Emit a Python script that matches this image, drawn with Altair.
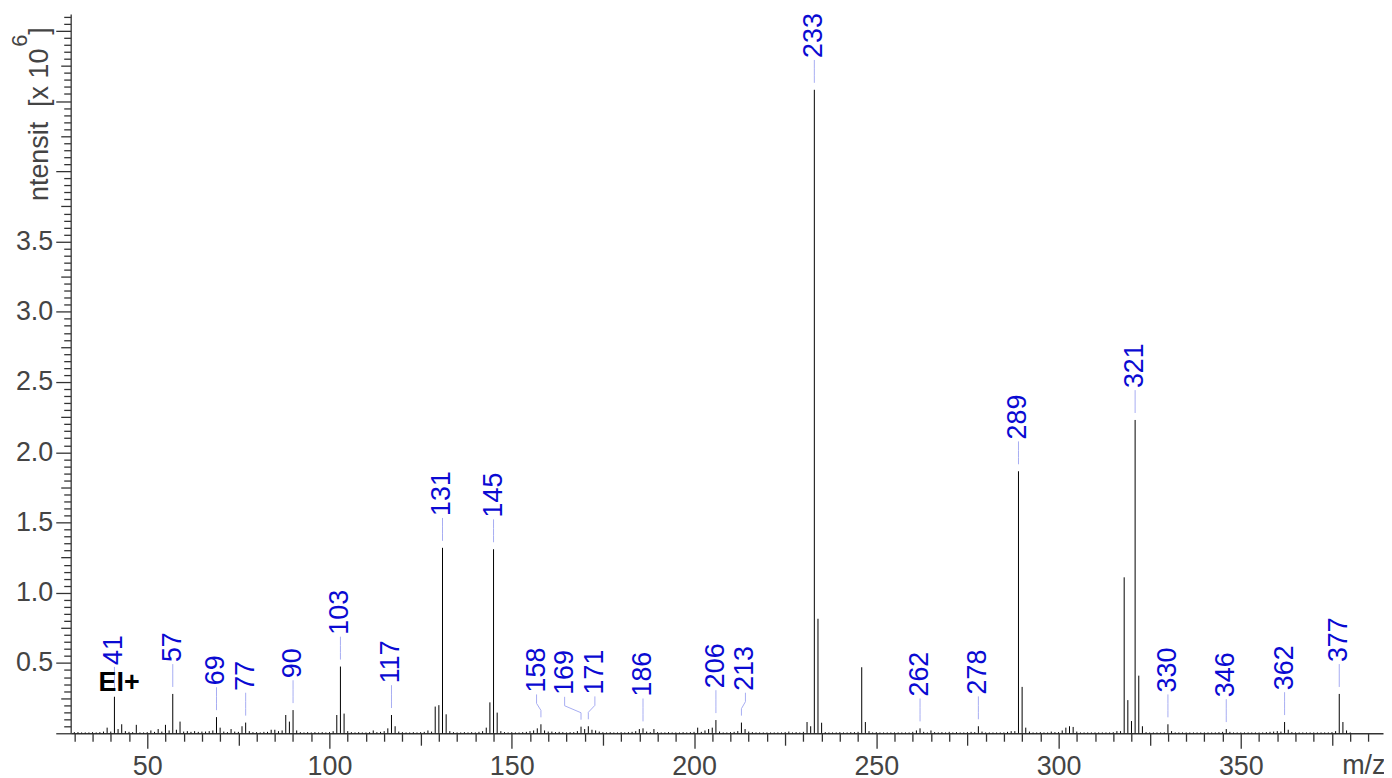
import altair as alt
import pandas as pd

# ---- data (intensity in units of 10^6) ----
mz = list(range(30, 381))
intensity = [
    .008, .008, .006, .006, .006, .008, .006, .008, .012, .04,     # 30-39
    .012, .26, .03, .064, .015, .01, .008, .06, .006, .006,        # 40-49
    .008, .02, .01, .03, .012, .06, .02, .28, .025, .083,          # 50-59
    .012, .015, .01, .015, .01, .012, .012, .015, .02, .115,       # 60-69
    .04, .012, .008, .03, .012, .01, .05, .076, .015, .008,        # 70-79
    .008, .006, .01, .01, .025, .025, .015, .02, .13, .083,        # 80-89
    .165, .02, .008, .006, .008, .006, .008, .006, .008, .006,     # 90-99
    .008, .015, .13, .475, .14, .015, .008, .006, .008, .006,      # 100-109
    .006, .008, .02, .008, .01, .015, .035, .13, .05, .012,        # 110-119
    .008, .006, .006, .008, .006, .008, .01, .02, .012, .19,       # 120-129
    .2, 1.32, .135, .015, .008, .006, .006, .008, .006, .008,      # 130-139
    .006, .01, .015, .04, .22, 1.31, .147, .015, .008, .006,       # 140-149
    .008, .006, .006, .008, .01, .015, .02, .035, .064, .02,       # 150-159
    .012, .012, .008, .01, .008, .006, .008, .008, .015, .047,     # 160-169
    .03, .05, .025, .02, .012, .008, .006, .008, .006, .006,       # 170-179
    .008, .006, .008, .01, .015, .03, .035, .012, .008, .03,       # 180-189
    .008, .006, .006, .008, .006, .006, .006, .008, .006, .008,    # 190-199
    .01, .04, .01, .02, .03, .04, .094, .012, .006, .006,          # 200-209
    .008, .01, .015, .076, .03, .012, .008, .006, .006, .006,      # 210-219
    .006, .006, .006, .006, .006, .008, .012, .006, .008, .006,    # 220-229
    .01, .08, .05, 4.58, .815, .075, .008, .006, .006, .006,       # 230-239
    .008, .006, .006, .008, .008, .01, .47, .08, .015, .006,       # 240-249
    .008, .006, .006, .006, .006, .006, .006, .006, .006, .006,    # 250-259
    .01, .02, .035, .01, .006, .02, .008, .006, .008, .006,        # 260-269
    .01, .006, .008, .006, .006, .008, .01, .008, .05, .012,       # 270-279
    .006, .006, .006, .006, .006, .006, .01, .015, .015, 1.865,    # 280-289
    .33, .04, .012, .006, .006, .008, .006, .006, .012, .008,      # 290-299
    .008, .02, .04, .05, .045, .012, .006, .006, .006, .006,       # 300-309
    .006, .006, .006, .006, .006, .008, .015, .015, 1.11, .236,    # 310-319
    .087, 2.23, .41, .05, .008, .006, .006, .006, .006, .006,      # 320-329
    .064, .015, .006, .006, .006, .006, .006, .006, .006, .006,    # 330-339
    .006, .006, .006, .006, .008, .01, .03, .01, .006, .006,       # 340-349
    .006, .006, .006, .006, .006, .006, .006, .008, .01, .012,     # 350-359
    .015, .012, .08, .025, .008, .006, .006, .006, .006, .006,     # 360-369
    .006, .006, .006, .006, .006, .008, .015, .28, .08, .02,       # 370-379
    .006,                                                          # 380
]
labelled = [41, 57, 69, 77, 90, 103, 117, 131, 145, 158, 169, 171,
            186, 206, 213, 233, 262, 278, 289, 321, 330, 346, 362, 377]

# label displacement (m/z units) to avoid collisions
shift = {158: -1.2, 169: -4.5, 171: 1.8, 213: 1.1}

x_ticks = list(range(30, 390, 5))
y_ticks = [round(i * 0.05, 2) for i in range(0, 103)]

spec = pd.DataFrame({"mz": mz, "inten": intensity})
lookup = dict(zip(mz, intensity))
lab = pd.DataFrame({
    "mz": labelled,
    "inten": [lookup[m] for m in labelled],
    "lx": [m + shift.get(m, 0) for m in labelled],
    "label": [str(m) for m in labelled],
})

FONT = "Liberation Sans"
AX = "#333333"
LBL = "#444444"
BLUE = "#0a0ad2"
LEAD = "#a6acf2"

xscale = alt.Scale(domain=[29, 389], nice=False, zero=False)
yscale = alt.Scale(domain=[0, 5.12], nice=False)

xaxis = alt.Axis(
    values=x_ticks, tickCount=500,
    labelExpr="datum.value % 50 === 0 ? datum.label : ''",
    tickSize={"condition": [{"test": "datum.value % 50 === 0", "value": 15},
                            {"test": "datum.value % 25 === 0", "value": 12}],
              "value": 8},
    labelFontSize=27, labelFont=FONT, labelColor=LBL, labelPadding=5,
    labelOverlap=False, labelFlush=False, labelBound=False,
    domainColor=AX, tickColor=AX, domainWidth=1.3, tickWidth=1.3,
    grid=False, title=None,
)
yaxis = alt.Axis(
    values=y_ticks, tickCount=500,
    labelExpr="(datum.value > 0.2 && datum.value < 3.75 && round(datum.value*100) % 50 === 0) ? format(datum.value, '.1f') : ''",
    tickSize={"condition": [{"test": "round(datum.value*100) % 50 === 0", "value": 15},
                            {"test": "round(datum.value*100) % 25 === 0", "value": 10}],
              "value": 7},
    labelFontSize=27, labelFont=FONT, labelColor=LBL, labelPadding=3,
    labelOverlap=False, labelFlush=False, labelBound=False,
    domainColor=AX, tickColor=AX, domainWidth=1.3, tickWidth=1.3,
    grid=False, title=None,
)

sticks = alt.Chart(spec).mark_rule(color="black", strokeWidth=1).encode(
    x=alt.X("mz:Q", scale=xscale, axis=xaxis),
    y=alt.Y("inten:Q", scale=yscale, axis=yaxis),
    y2=alt.datum(0),
)

base = alt.Chart(lab)
seg1 = base.mark_rule(color=LEAD, strokeWidth=1, yOffset=-7, y2Offset=-14).encode(
    x="mz:Q", y="inten:Q", y2="inten:Q")
seg2 = base.mark_rule(color=LEAD, strokeWidth=1, yOffset=-14, y2Offset=-21).encode(
    x="mz:Q", x2="lx:Q", y="inten:Q", y2="inten:Q")
seg3 = base.mark_rule(color=LEAD, strokeWidth=1, yOffset=-21, y2Offset=-30).encode(
    x="lx:Q", y="inten:Q", y2="inten:Q")
labels = base.mark_text(angle=270, align="left", baseline="middle", yOffset=-32,
                        font=FONT, fontSize=27, color=BLUE).encode(
    x="lx:Q", y="inten:Q", text="label:N")

def txt(s, x, y, size=27, color=LBL, angle=None, weight="normal"):
    kw = dict(align="left", baseline="alphabetic", font=FONT, fontSize=size,
              color=color, fontWeight=weight)
    if angle is not None:
        kw["angle"] = angle
    return alt.Chart(pd.DataFrame({"t": [s]})).mark_text(**kw).encode(
        x=alt.value(x), y=alt.value(y), text="t:N")

ytitle1 = txt("ntensit\u00a0\u00a0[x 10", -23, 188, angle=270)
ytitle2 = txt("6", -44, 33, size=22, angle=270)
ytitle3 = txt("]", -23, 21, angle=270)
ei = txt("EI+", 28, 681, color="black", weight="bold")
mzlab = txt("m/z", 1278, 764)

chart = alt.layer(
    sticks, seg1, seg2, seg3, labels, ytitle1, ytitle2, ytitle3, ei, mzlab
).properties(
    width=1319, height=723,
    autosize=alt.AutoSizeParams(type="none"),
    padding={"left": 63, "top": 4, "right": 1, "bottom": 43},
).configure(background="white").configure_view(stroke=None)

chart.save("out.html", embed_options={"renderer": "svg", "actions": False})
